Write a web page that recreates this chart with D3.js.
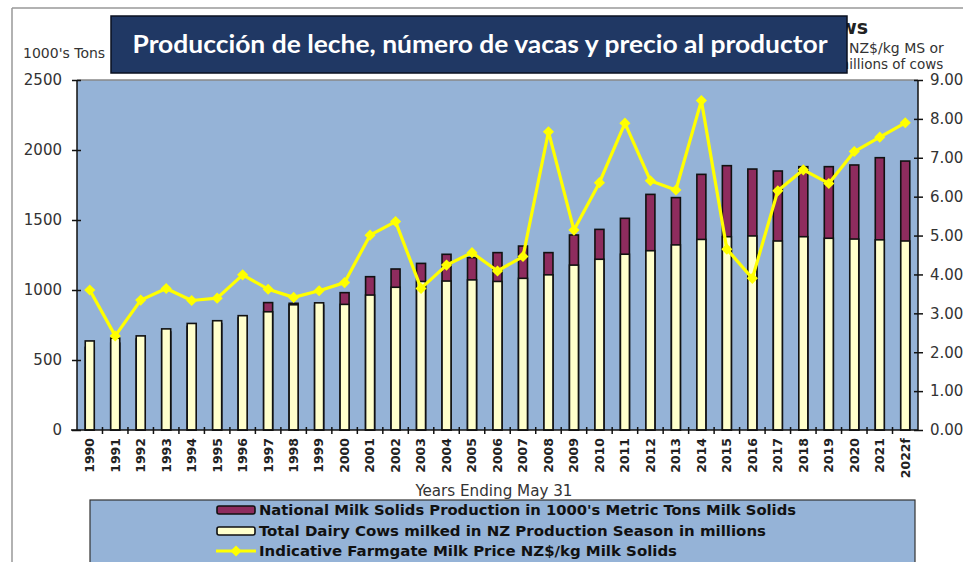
<!DOCTYPE html>
<html>
<head>
    <meta charset="utf-8">
    <style>
        body { margin: 0; background: #fff; }
        svg { display: block; font-family: "DejaVu Sans", Verdana, sans-serif; }
    </style>
</head>
<body>
<svg width="963" height="562"></svg>

<script src="https://d3js.org/d3.v7.min.js"></script>
<script>
    //------------------------ DATA ------------------------//
    let years = ["1990","1991","1992","1993","1994","1995","1996","1997","1998","1999",
                 "2000","2001","2002","2003","2004","2005","2006","2007","2008","2009",
                 "2010","2011","2012","2013","2014","2015","2016","2017","2018","2019",
                 "2020","2021","2022f"]

    // milk solids, 1000's metric tons (left axis)
    let milkSolids = [590, 620, 650, 700, 740, 760, 800, 910, 905, 890,
                      981, 1095, 1150, 1190, 1255, 1231, 1267, 1314, 1267, 1393,
                      1433, 1512, 1683, 1660, 1826, 1888, 1864, 1850, 1881, 1881,
                      1893, 1945, 1921]

    // dairy cows milked, millions (right axis)
    let cows = [2.29, 2.36, 2.42, 2.60, 2.74, 2.81, 2.94, 3.04, 3.22, 3.27,
                3.23, 3.47, 3.67, 3.82, 3.83, 3.86, 3.82, 3.90, 3.99, 4.24,
                4.39, 4.52, 4.61, 4.76, 4.90, 4.97, 4.99, 4.86, 4.97, 4.93,
                4.91, 4.89, 4.86]

    // farmgate milk price NZ$/kg MS (right axis)
    let price = [3.60, 2.42, 3.34, 3.64, 3.33, 3.39, 3.99, 3.62, 3.41, 3.58,
                 3.79, 5.01, 5.36, 3.64, 4.24, 4.56, 4.09, 4.46, 7.67, 5.14,
                 6.36, 7.89, 6.41, 6.17, 8.47, 4.65, 3.90, 6.15, 6.69, 6.34,
                 7.16, 7.53, 7.90]

    let leftTicks = [0, 500, 1000, 1500, 2000, 2500]
    let rightTicks = [0, 1, 2, 3, 4, 5, 6, 7, 8, 9]

    let legendLabels = [
        "National Milk Solids Production in 1000's Metric Tons Milk Solids",
        "Total Dairy Cows milked in  NZ Production Season in millions",
        "Indicative Farmgate Milk Price NZ$/kg Milk Solids"
    ]

    //------------------------ SETUP ------------------------//
    let svg = d3.select("svg")
    let plot = {left: 77, right: 918, top: 80, bottom: 430}

    let x = d3.scaleBand()
        .domain(years)
        .range([plot.left, plot.right])

    let yLeft = d3.scaleLinear().domain([0, 2500]).range([plot.bottom, plot.top])
    let yRight = d3.scaleLinear().domain([0, 9]).range([plot.bottom, plot.top])

    let barW = 9
    let maroon = "#8e2c5e"
    let cream = "#ffffcc"
    let yellow = "#ffff00"
    let bg = "#95b3d7"

    //------------------------ FRAME ------------------------//
    svg.append("line").attr("x1", 12).attr("x2", 12).attr("y1", 8).attr("y2", 562)
        .style("stroke", "#999").style("stroke-width", 1.5)
    svg.append("line").attr("x1", 12).attr("x2", 963).attr("y1", 8).attr("y2", 8)
        .style("stroke", "#999").style("stroke-width", 1.5)

    // original chart title remnants (mostly under the overlay box)
    svg.append("text").attr("x", 868).attr("y", 34).attr("text-anchor", "end")
        .style("font-size", "19px").style("font-weight", "bold").style("fill", "#222")
        .text("Cows")
    svg.append("text").attr("x", 849).attr("y", 53)
        .style("font-size", "14px").style("fill", "#333").text("NZ$/kg MS or")
    svg.append("text").attr("x", 836).attr("y", 69)
        .style("font-size", "13.5px").style("fill", "#333").text("millions of cows")
    svg.append("text").attr("x", 23).attr("y", 58)
        .style("font-size", "14px").style("fill", "#333").text("1000's Tons")

    //------------------------ PLOT AREA ------------------------//
    svg.append("rect")
        .attr("x", plot.left).attr("y", plot.top)
        .attr("width", plot.right - plot.left).attr("height", plot.bottom - plot.top)
        .style("fill", bg)
    svg.append("line").attr("x1", plot.left).attr("x2", plot.right)
        .attr("y1", plot.top).attr("y2", plot.top)
        .style("stroke", "#888").style("stroke-width", 1.5)

    // milk solids bars (behind)
    svg.append("g").selectAll("rect")
        .data(years)
        .join("rect")
        .attr("x", (d) => x(d) + x.bandwidth() / 2 - barW / 2)
        .attr("y", (d, i) => yLeft(milkSolids[i]))
        .attr("width", barW)
        .attr("height", (d, i) => plot.bottom - yLeft(milkSolids[i]))
        .style("fill", maroon)
        .style("stroke", "#111")
        .style("stroke-width", 1.6)

    // cows bars (in front)
    svg.append("g").selectAll("rect")
        .data(years)
        .join("rect")
        .attr("x", (d) => x(d) + x.bandwidth() / 2 - barW / 2)
        .attr("y", (d, i) => yRight(cows[i]))
        .attr("width", barW)
        .attr("height", (d, i) => plot.bottom - yRight(cows[i]))
        .style("fill", cream)
        .style("stroke", "#111")
        .style("stroke-width", 1.6)

    //------------------------ AXES ------------------------//
    let leftAxis = svg.append("g")
        .attr("transform", "translate(" + plot.left + ",0)")
        .call(d3.axisLeft(yLeft).tickValues(leftTicks).tickFormat(d3.format("d")).tickSize(5).tickPadding(10))
    leftAxis.selectAll("line").attr("x2", -5).attr("x1", 4)
    leftAxis.select(".domain").attr("d", "M0," + plot.top + "V" + plot.bottom)
    leftAxis.selectAll("line, .domain").style("stroke", "#111").style("stroke-width", 1.5)
    leftAxis.selectAll("text").style("font-size", "15px").style("fill", "#333")
        .style("font-family", "DejaVu Sans, sans-serif")

    let rightAxis = svg.append("g")
        .attr("transform", "translate(" + plot.right + ",0)")
        .call(d3.axisRight(yRight).tickValues(rightTicks).tickFormat(d3.format(".2f")).tickSize(5).tickPadding(7))
    rightAxis.selectAll("line").attr("x1", -4)
    rightAxis.select(".domain").attr("d", "M0," + plot.top + "V" + plot.bottom)
    rightAxis.selectAll("line, .domain").style("stroke", "#111").style("stroke-width", 1.5)
    rightAxis.selectAll("text").style("font-size", "15px").style("fill", "#333")
        .style("font-family", "DejaVu Sans, sans-serif")

    // x axis: line, ticks between categories, rotated labels
    let xAxis = svg.append("g")
        .attr("transform", "translate(0," + plot.bottom + ")")
        .call(d3.axisBottom(x).tickSize(0).tickPadding(0))
    xAxis.select(".domain").attr("d", "M" + (plot.left - 6) + ",0H" + plot.right)
        .style("stroke", "#111").style("stroke-width", 1.5)
    xAxis.selectAll("text")
        .attr("transform", "rotate(-90)")
        .attr("x", -8).attr("y", 0).attr("dy", "0.35em")
        .style("text-anchor", "end")
        .style("font-size", "12.5px").style("font-weight", "bold").style("fill", "#222")
        .style("font-family", "DejaVu Sans, sans-serif")
    xAxis.append("g").selectAll("line")
        .data(years.slice(1))
        .join("line")
        .attr("x1", (d) => x(d)).attr("x2", (d) => x(d))
        .attr("y1", -3).attr("y2", 4)
        .style("stroke", "#111").style("stroke-width", 1.5)

    svg.append("text")
        .attr("x", 494).attr("y", 496)
        .attr("text-anchor", "middle")
        .attr("textLength", 157).attr("lengthAdjust", "spacingAndGlyphs")
        .style("font-family", "'Liberation Sans Narrow', 'DejaVu Sans Condensed', sans-serif")
        .style("font-size", "16px").style("fill", "#333")
        .text("Years Ending May 31")

    //------------------------ PRICE LINE ------------------------//
    let line = d3.line()
        .x((d, i) => x(years[i]) + x.bandwidth() / 2)
        .y((d) => yRight(d))

    svg.append("path")
        .attr("d", line(price))
        .style("fill", "none")
        .style("stroke", yellow)
        .style("stroke-width", 3.2)
        .style("stroke-linejoin", "round")

    let diamond = d3.symbol().type(d3.symbolSquare).size(62)
    svg.append("g").selectAll("path")
        .data(price)
        .join("path")
        .attr("d", diamond)
        .attr("transform", (d, i) => "translate(" + (x(years[i]) + x.bandwidth() / 2) + "," + yRight(d) + ") rotate(45)")
        .style("fill", yellow)

    //------------------------ LEGEND ------------------------//
    svg.append("rect")
        .attr("x", 90).attr("y", 500).attr("width", 825).attr("height", 80)
        .style("fill", bg).style("stroke", "#333").style("stroke-width", 1.2)

    let legendY = [510, 531, 551]
    let legendW = [537, 507, 418]
    svg.append("rect").attr("x", 217).attr("y", legendY[0] - 4).attr("width", 38).attr("height", 8)
        .attr("rx", 2).style("fill", maroon).style("stroke", "#111").style("stroke-width", 1.6)
    svg.append("rect").attr("x", 217).attr("y", legendY[1] - 4).attr("width", 38).attr("height", 8)
        .attr("rx", 2).style("fill", cream).style("stroke", "#111").style("stroke-width", 1.6)
    svg.append("line").attr("x1", 216).attr("x2", 256).attr("y1", legendY[2]).attr("y2", legendY[2])
        .style("stroke", yellow).style("stroke-width", 3)
    svg.append("path").attr("d", diamond)
        .attr("transform", "translate(236," + legendY[2] + ") rotate(45)")
        .style("fill", yellow)

    svg.append("g").selectAll("text")
        .data(legendLabels)
        .join("text")
        .attr("x", 259)
        .attr("y", (d, i) => legendY[i] + 5)
        .attr("textLength", (d, i) => legendW[i])
        .attr("lengthAdjust", "spacingAndGlyphs")
        .style("font-family", "'DejaVu Sans Condensed', 'DejaVu Sans', sans-serif")
        .style("font-size", "14px").style("font-weight", "bold").style("fill", "#111")
        .text((d) => d)

    //------------------------ TITLE OVERLAY ------------------------//
    svg.append("rect")
        .attr("x", 111).attr("y", 16).attr("width", 736).attr("height", 57)
        .style("fill", "#203864").style("stroke", "#0a1020").style("stroke-width", 1.5)
    svg.append("text")
        .attr("x", 480).attr("y", 53)
        .attr("text-anchor", "middle")
        .attr("textLength", 695).attr("lengthAdjust", "spacingAndGlyphs")
        .style("font-family", "Lato, 'Open Sans', sans-serif")
        .style("font-size", "25px").style("font-weight", "bold").style("fill", "#fff")
        .text("Producción de leche, número de vacas y precio al productor")
</script>
</body>
</html>
